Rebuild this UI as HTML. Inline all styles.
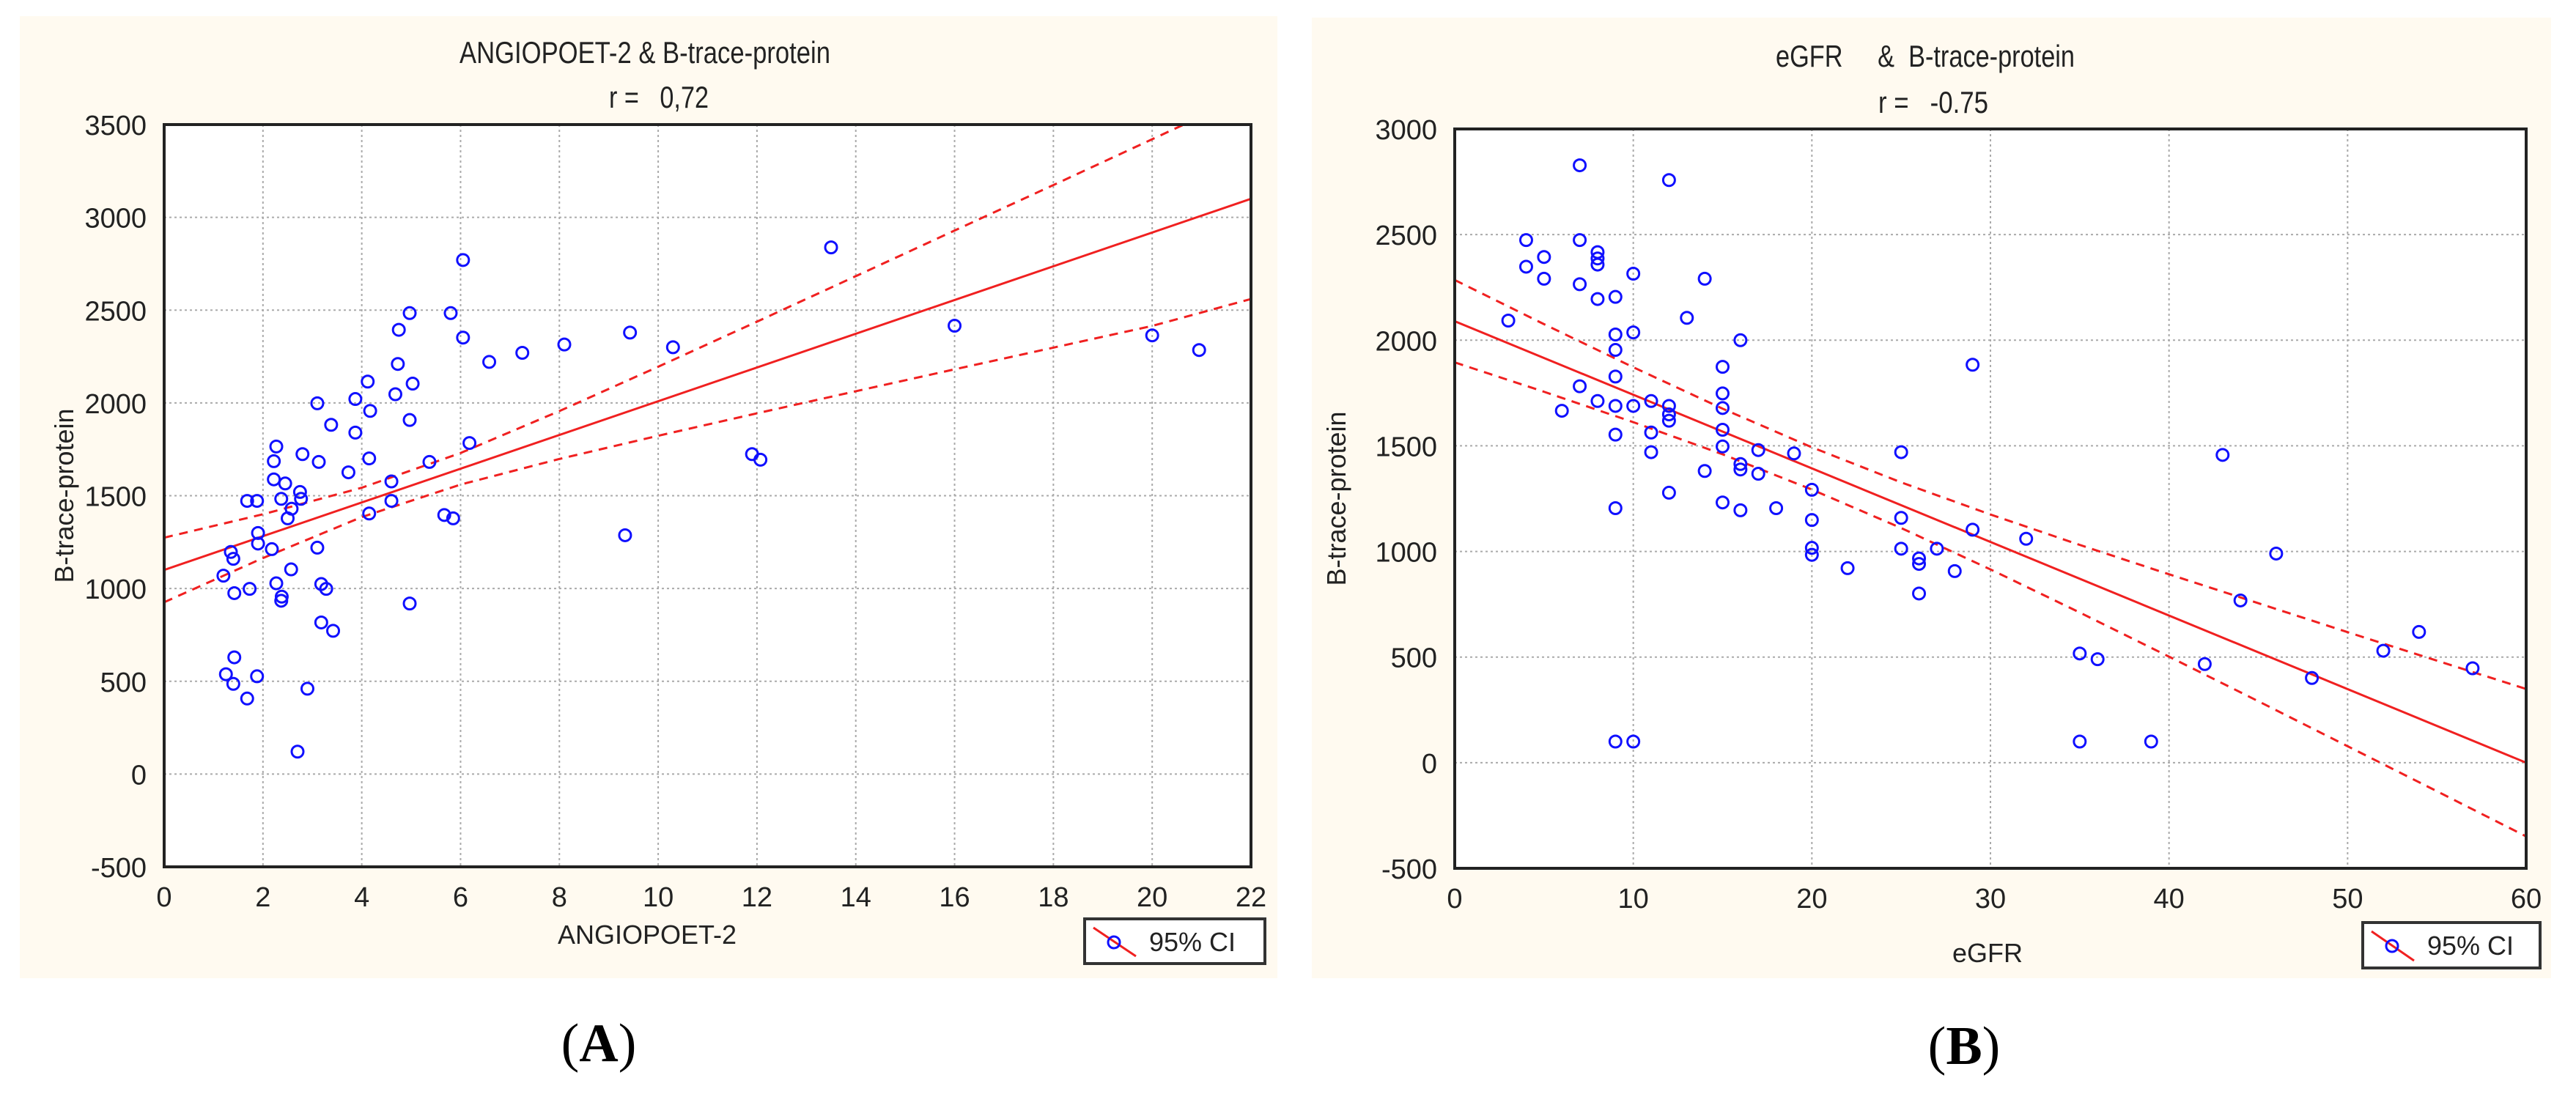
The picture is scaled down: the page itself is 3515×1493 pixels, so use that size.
<!DOCTYPE html>
<html><head><meta charset="utf-8"><style>
html,body{margin:0;padding:0;background:#fff;}
svg{display:block;font-family:"Liberation Sans",sans-serif;}
text{white-space:pre;}
</style></head><body>
<svg id="s" width="3515" height="1493" viewBox="0 0 3515 1493">
<rect x="27" y="22" width="1716" height="1313" fill="#fffaf0"/>
<rect x="1790" y="24" width="1691" height="1311" fill="#fffaf0"/>
<text x="817" y="1448" font-family="Liberation Serif,serif" font-size="74" text-anchor="middle">(<tspan font-weight="bold">A</tspan>)</text>
<text x="2680" y="1452" font-family="Liberation Serif,serif" font-size="74" text-anchor="middle">(<tspan font-weight="bold">B</tspan>)</text>
</svg>
<script>
// ---------- Panel A data ----------
const aX = [6.05,13.5,5.8,4.97,4.75,6.05,6.58,7.25,8.1,9.43,10.3,16,20,20.95,4.73,4.12,5.03,4.68,3.87,3.1,4.17,4.97,3.38,3.87,6.18,2.27,2.8,2.22,3.13,4.15,5.37,3.73,11.9,12.07,2.22,2.45,4.6,2.75,2.37,2.77,1.68,1.88,4.6,4.15,2.58,2.5,5.67,5.85,9.33,1.9,1.35,1.9,2.18,3.1,1.4,1.2,2.57,2.27,3.18,3.28,1.73,1.42,2.38,2.37,4.97,3.18,3.42,1.42,1.25,1.88,1.4,2.9,1.68,2.7];
const aY = [2770,2838,2484,2484,2394,2352,2221,2270,2315,2379,2300,2416,2364,2285,2210,2115,2104,2047,2021,1998,1957,1908,1882,1840,1784,1765,1724,1686,1682,1701,1682,1626,1724,1694,1588,1566,1577,1520,1483,1483,1472,1472,1472,1404,1430,1378,1396,1378,1287,1299,1197,1242,1212,1220,1160,1069,1103,1028,1024,998,998,975,956,934,919,817,772,629,538,527,486,460,407,121];
const aFitX = [0,22];
const aFitY = [1100,3100];
const aCiX = [0,2,4,6,8,10,12,14,16,18,20,22];
const aCiUpper = [1274,1400,1543,1730,1956,2195,2438,2683,2929,3174,3421,3668];
const aCiLower = [926,1164,1385,1560,1698,1823,1944,2063,2181,2298,2415,2560];
const aXTicks = [0,2,4,6,8,10,12,14,16,18,20,22];
const aYTicks = [-500,0,500,1000,1500,2000,2500,3000,3500];
// ---------- Panel B data ----------
const bX = [7,12,4,7,5,8,8,8,4,10,5,14,7,8,9,3,13,9,10,16,9,15,29,9,7,15,8,11,9,10,12,6,15,12,12,15,11,9,15,17,19,25,43,11,16,16,14,17,20,12,15,9,16,18,25,20,29,32,20,20,25,27,46,26,26,22,28,26,44,54,35,52,36,42,57,48,9,10,35,39];
const bY = [2828,2758,2474,2474,2394,2417,2387,2358,2348,2315,2291,2291,2265,2195,2205,2093,2106,2027,2037,2000,1954,1874,1884,1828,1782,1748,1712,1712,1689,1689,1689,1666,1679,1649,1619,1576,1563,1553,1497,1480,1464,1470,1457,1470,1414,1388,1381,1368,1292,1278,1232,1205,1195,1205,1159,1149,1103,1060,1017,984,1013,1013,990,967,941,921,907,801,768,619,517,530,490,467,447,401,100,100,100,100];
const bFitX = [0,60];
const bFitY = [2090,0];
const bCiX = [0,5,10,15,20,25,30,35,40,45,50,55,60];
const bCiUpper = [2285,2076,1872,1676,1493,1327,1175,1031,892,755,618,483,349];
const bCiLower = [1895,1756,1612,1460,1293,1111,915,711,502,291,78,-135,-349];
const bXTicks = [0,10,20,30,40,50,60];
const bYTicks = [-500,0,500,1000,1500,2000,2500,3000];

const NS = "http://www.w3.org/2000/svg";
const svg = document.getElementById('s');
function mk(tag, attrs, parent){const e=document.createElementNS(NS,tag);for(const k in attrs)e.setAttribute(k,attrs[k]);(parent||svg).appendChild(e);return e;}

function panel(cfg){
  const g = mk('g',{});
  
  
  const L=cfg.left,R=cfg.right,T=cfg.top,B=cfg.bottom;
  const sx=v=>L+(v-cfg.xmin)/(cfg.xmax-cfg.xmin)*(R-L);
  const sy=v=>B-(v-cfg.ymin)/(cfg.ymax-cfg.ymin)*(B-T);
  mk('rect',{x:L,y:T,width:R-L,height:B-T,fill:'#fff'},g);
  const cp = mk('clipPath',{id:cfg.id+'-clip'},g);
  mk('rect',{x:L,y:T,width:R-L,height:B-T},cp);
  cfg.xTicks.forEach(t=>{
    const gl=mk('line',{x1:sx(t),x2:sx(t),y1:T,y2:B,stroke:'#aaa','stroke-width':2,'stroke-dasharray':'3 4'},g);
    
    
    const tx=mk('text',{x:sx(t),y:B+54,'font-size':38,'text-anchor':'middle',fill:'#222'},g);
    tx.textContent=t;
    
    
  });
  cfg.yTicks.forEach(t=>{
    const gl=mk('line',{x1:L,x2:R,y1:sy(t),y2:sy(t),stroke:'#aaa','stroke-width':2,'stroke-dasharray':'3 4'},g);
    
    
    const tx=mk('text',{x:L-24,y:sy(t)+14,'font-size':38,'text-anchor':'end',fill:'#222'},g);
    tx.textContent=t;
    
    
  });
  const cg = mk('g',{'clip-path':'url(#'+cfg.id+'-clip)'},g);
  const ptsU = cfg.ciX.map((x,i)=>sx(x)+','+sy(cfg.ciU[i])).join(' ');
  const ptsL = cfg.ciX.map((x,i)=>sx(x)+','+sy(cfg.ciL[i])).join(' ');
  const u=mk('polyline',{points:ptsU,fill:'none',stroke:'#f02020','stroke-width':3,'stroke-dasharray':'12 9'},cg);
  
  
  const lo=mk('polyline',{points:ptsL,fill:'none',stroke:'#f02020','stroke-width':3,'stroke-dasharray':'12 9'},cg);
  
  
  const f=mk('line',{x1:sx(cfg.fitX[0]),y1:sy(cfg.fitY[0]),x2:sx(cfg.fitX[1]),y2:sy(cfg.fitY[1]),stroke:'#f02020','stroke-width':3},cg);
  
  
  cfg.xs.forEach((x,i)=>{
    const c=mk('circle',{cx:sx(x),cy:sy(cfg.ys[i]),r:8,fill:'none',stroke:'#1010ff','stroke-width':3},cg);
    
    
  });
  const fr=mk('rect',{x:L,y:T,width:R-L,height:B-T,fill:'none',stroke:'#222','stroke-width':4},g);
  
  
  const t1=mk('text',{x:cfg.titleX,y:cfg.titleY,'font-size':42,'text-anchor':'middle',fill:'#222',textLength:cfg.titleLen,lengthAdjust:'spacingAndGlyphs'},g);
  t1.textContent=cfg.title;
  
  
  const t2=mk('text',{x:cfg.rX,y:cfg.rY,'font-size':42,'text-anchor':'middle',fill:'#222',textLength:cfg.rLen,lengthAdjust:'spacingAndGlyphs'},g);
  t2.textContent=cfg.rtext;
  
  
  const xt=mk('text',{x:cfg.xTitleX,y:cfg.xTitleY,'font-size':36,'text-anchor':'middle',fill:'#222'},g);
  xt.textContent=cfg.xTitle;
  
  
  const yt=mk('text',{x:0,y:0,'font-size':36,'text-anchor':'middle',fill:'#222',transform:'translate('+cfg.yTitleX+','+((T+B)/2)+') rotate(-90)'},g);
  yt.textContent='B-trace-protein';
  
  
  const lg=mk('g',{},g);
  
  
  const lx=cfg.legend[0],ly=cfg.legend[1],lw=cfg.legend[2],lh=cfg.legend[3];
  mk('rect',{x:lx,y:ly,width:lw,height:lh,fill:'#fff',stroke:'#333','stroke-width':4},lg);
  mk('line',{x1:lx+12,y1:ly+12,x2:lx+70,y2:ly+lh-10,stroke:'#f02020','stroke-width':3},lg);
  mk('circle',{cx:lx+40,cy:ly+32,r:8,fill:'none',stroke:'#1010ff','stroke-width':3},lg);
  const ltx=mk('text',{x:lx+88,y:ly+44,'font-size':36,fill:'#222'},lg);
  ltx.textContent='95% CI';
  
  
}

panel({id:'panel-a',left:224,right:1707,top:170,bottom:1183,xmin:0,xmax:22,ymin:-500,ymax:3500,
  xs:aX,ys:aY,fitX:aFitX,fitY:aFitY,ciX:aCiX,ciU:aCiUpper,ciL:aCiLower,xTicks:aXTicks,yTicks:aYTicks,
  title:'ANGIOPOET-2 & B-trace-protein',titleX:880,titleY:86,titleLen:506,
  rtext:'r =   0,72',rX:899,rY:147,rLen:136,
  xTitle:'ANGIOPOET-2',xTitleX:883,xTitleY:1288,yTitleX:100,legend:[1480,1254,246,61]});
panel({id:'panel-b',left:1985,right:3447,top:176,bottom:1185,xmin:0,xmax:60,ymin:-500,ymax:3000,
  xs:bX,ys:bY,fitX:bFitX,fitY:bFitY,ciX:bCiX,ciU:bCiUpper,ciL:bCiLower,xTicks:bXTicks,yTicks:bYTicks,
  title:'eGFR     &  B-trace-protein',titleX:2627,titleY:91,titleLen:408,
  rtext:'r =   -0.75',rX:2638,rY:154,rLen:150,
  xTitle:'eGFR',xTitleX:2712,xTitleY:1313,yTitleX:1836,legend:[3224,1259,242,62]});
</script>
</body></html>
